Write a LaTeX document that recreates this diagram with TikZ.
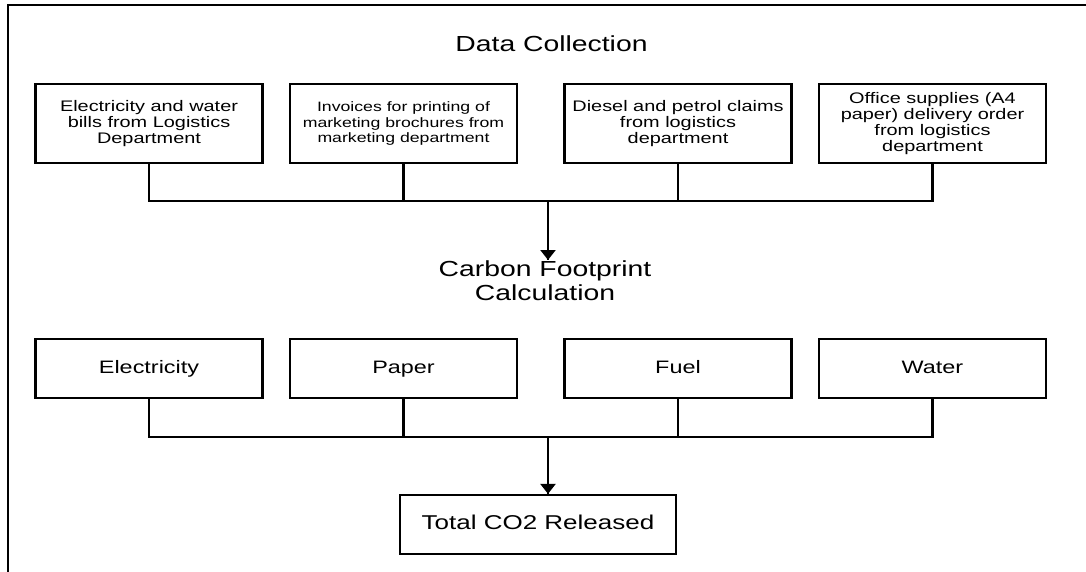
\documentclass[tikz,border=0pt]{standalone}
\usepackage{fontspec}
\setmainfont{Liberation Sans}[FakeStretch=1.3]
\usepackage{tikz}
\usetikzlibrary{positioning, calc, arrows.meta, decorations.markings}
\tikzset{
	srcbox/.style={draw, line width=2.2pt, minimum width=227pt, minimum height=79pt,
			inner sep=0pt, align=center, font=\fontsize{15.3}{15.7}\selectfont}
}
\tikzset{
	catbox/.style={draw, line width=2.2pt, minimum width=227pt, minimum height=59pt,
			inner sep=0pt, text height=13pt, text depth=3.5pt, font=\fontsize{18}{20}\selectfont}
}
\tikzset{
	headtext/.style={inner sep=0pt, align=center, font=\fontsize{21.8}{24}\selectfont}
}
\tikzset{
	wire/.style={line width=2.2pt}
}

\begin{document}
\begin{tikzpicture}[x=1pt, y=-1pt]

			\useasboundingbox (0,0) rectangle (1086,572);

			\begin{scope}
				\clip (0,0) rectangle (1086,572);
				\draw[line width=2.6pt] (8,590) -- (8,5) -- (1100,5);
			\end{scope}

			\node[headtext, anchor=base] (dctitle) at (551.5,51.7) {Data Collection};

			\begin{scope}
				\coordinate (sA) at (149,123.5);
				\coordinate (sB) at (403.5,123.5);
				\coordinate (sC) at (678,123.5);
				\coordinate (sD) at (932.5,123.5);

				\node[srcbox] (src1) at (sA) {Electricity and water\\bills from Logistics\\Department};
				\node[srcbox, font=\fontsize{13.6}{15.7}\selectfont] (src2) at (sB) {Invoices for printing of\\marketing brochures from\\marketing department};
				\node[srcbox] (src3) at (sC) {Diesel and petrol claims\\from logistics\\department};
				\node[srcbox] (src4) at (sD) {Office supplies (A4\\paper) delivery order\\from logistics\\department};
			\end{scope}

			\node[headtext, anchor=north] (calc) at (545,261) {Carbon Footprint\\Calculation};

			\begin{scope}
				\coordinate (cA) at (149,368.5);
				\coordinate (cB) at (403.5,368.5);
				\coordinate (cC) at (678,368.5);
				\coordinate (cD) at (932.5,368.5);

				\node[catbox] (cat1) at (cA) {Electricity};
				\node[catbox] (cat2) at (cB) {Paper};
				\node[catbox] (cat3) at (cC) {Fuel};
				\node[catbox] (cat4) at (cD) {Water};
			\end{scope}

			\node[catbox, minimum width=276pt, text height=14.5pt, text depth=4pt, font=\fontsize{20}{22}\selectfont] (total) at (538,524.5) {Total CO2 Released};

			\begin{scope}
				\tikzset{
					downhead/.style={
							wire,
							postaction={decorate,decoration={markings,mark=at position 1 with {\arrow{Triangle[width=15pt,length=10pt]}}}}
						}
				}

				\coordinate (hub1) at (548,201);
				\coordinate (hub2) at (548,437);

				\draw[wire] (src1.south) -- (src1.south |- hub1) -- (src4.south |- hub1) -- (src4.south);
				\draw[wire] (src2.south) -- (src2.south |- hub1);
				\draw[wire] (src3.south) -- (src3.south |- hub1);
				\draw[downhead] (hub1) -- ([yshift=1pt]hub1 |- calc.north);

				\draw[wire] (cat1.south) -- (cat1.south |- hub2) -- (cat4.south |- hub2) -- (cat4.south);
				\draw[wire] (cat2.south) -- (cat2.south |- hub2);
				\draw[wire] (cat3.south) -- (cat3.south |- hub2);
				\draw[downhead] (hub2) -- (hub2 |- total.north);
			\end{scope}

		\end{tikzpicture}
\end{document}
